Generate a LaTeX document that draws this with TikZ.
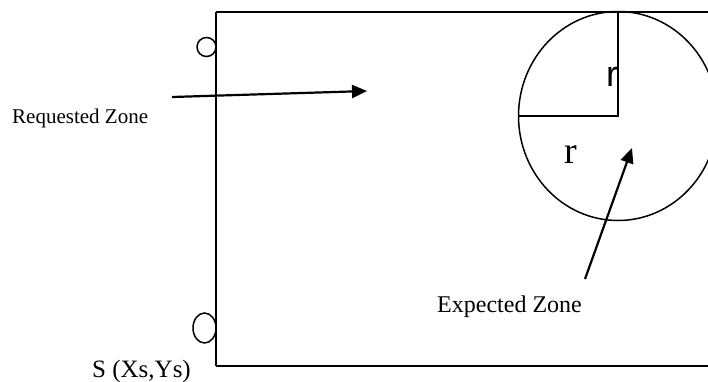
\documentclass[tikz,border=0pt]{standalone}
\usepackage{fontspec}
\setmainfont{Liberation Serif}
\newfontfamily\sansr{Liberation Sans}
\usetikzlibrary{arrows.meta}
\begin{document}
\begin{tikzpicture}[x=1pt,y=-1pt,
  zone/.style={line width=2pt},
  ring/.style={line width=1.5pt},
  pointer/.style={line width=2.2pt,-{Triangle[length=15pt,width=13pt]}},
  lbl/.style={inner sep=0pt,anchor=base west}]
\useasboundingbox (0,0) rectangle (708,381);
\clip (0,0) rectangle (708,381);
% requested zone rectangle
\draw[zone] (216,12) -- (716,12);
\draw[zone] (216,12) -- (216,366);
\draw[zone] (216,366) -- (716,366);
% sensors
\draw[ring] (206.5,47) circle (9.5);
\draw[ring] (204.5,328) ellipse (11.5 and 15);
% expected zone
\coordinate (c) at (618,116);
\draw[ring] (c) ellipse (99.5 and 104.5);
\coordinate (ctop) at (618,12);
\coordinate (cleft) at (518.5,116);
\draw[zone] (ctop) -- (c) -- (cleft);
\node[lbl,font=\sansr\fontsize{36}{36}\selectfont] (rv) at (606,86) {r};
\node[lbl,font=\fontsize{38}{38}\selectfont] (rh) at (564,163) {r};
% labels
\node[lbl,font=\fontsize{21}{21}\selectfont] (req) at (12,123) {Requested Zone};
\node[lbl,font=\fontsize{24}{24}\selectfont] (exp) at (437,312) {Expected Zone};
\node[lbl,font=\fontsize{25}{25}\selectfont] (s) at (92,377) {S (Xs,Ys)};
% pointers
\coordinate (a1s) at (172,97);
\coordinate (a1e) at (367,91);
\draw[pointer] (a1s) -- (a1e);
\coordinate (a2s) at (585,279);
\coordinate (a2e) at (632,148);
\draw[pointer] (a2s) -- (a2e);
\end{tikzpicture}
\end{document}
